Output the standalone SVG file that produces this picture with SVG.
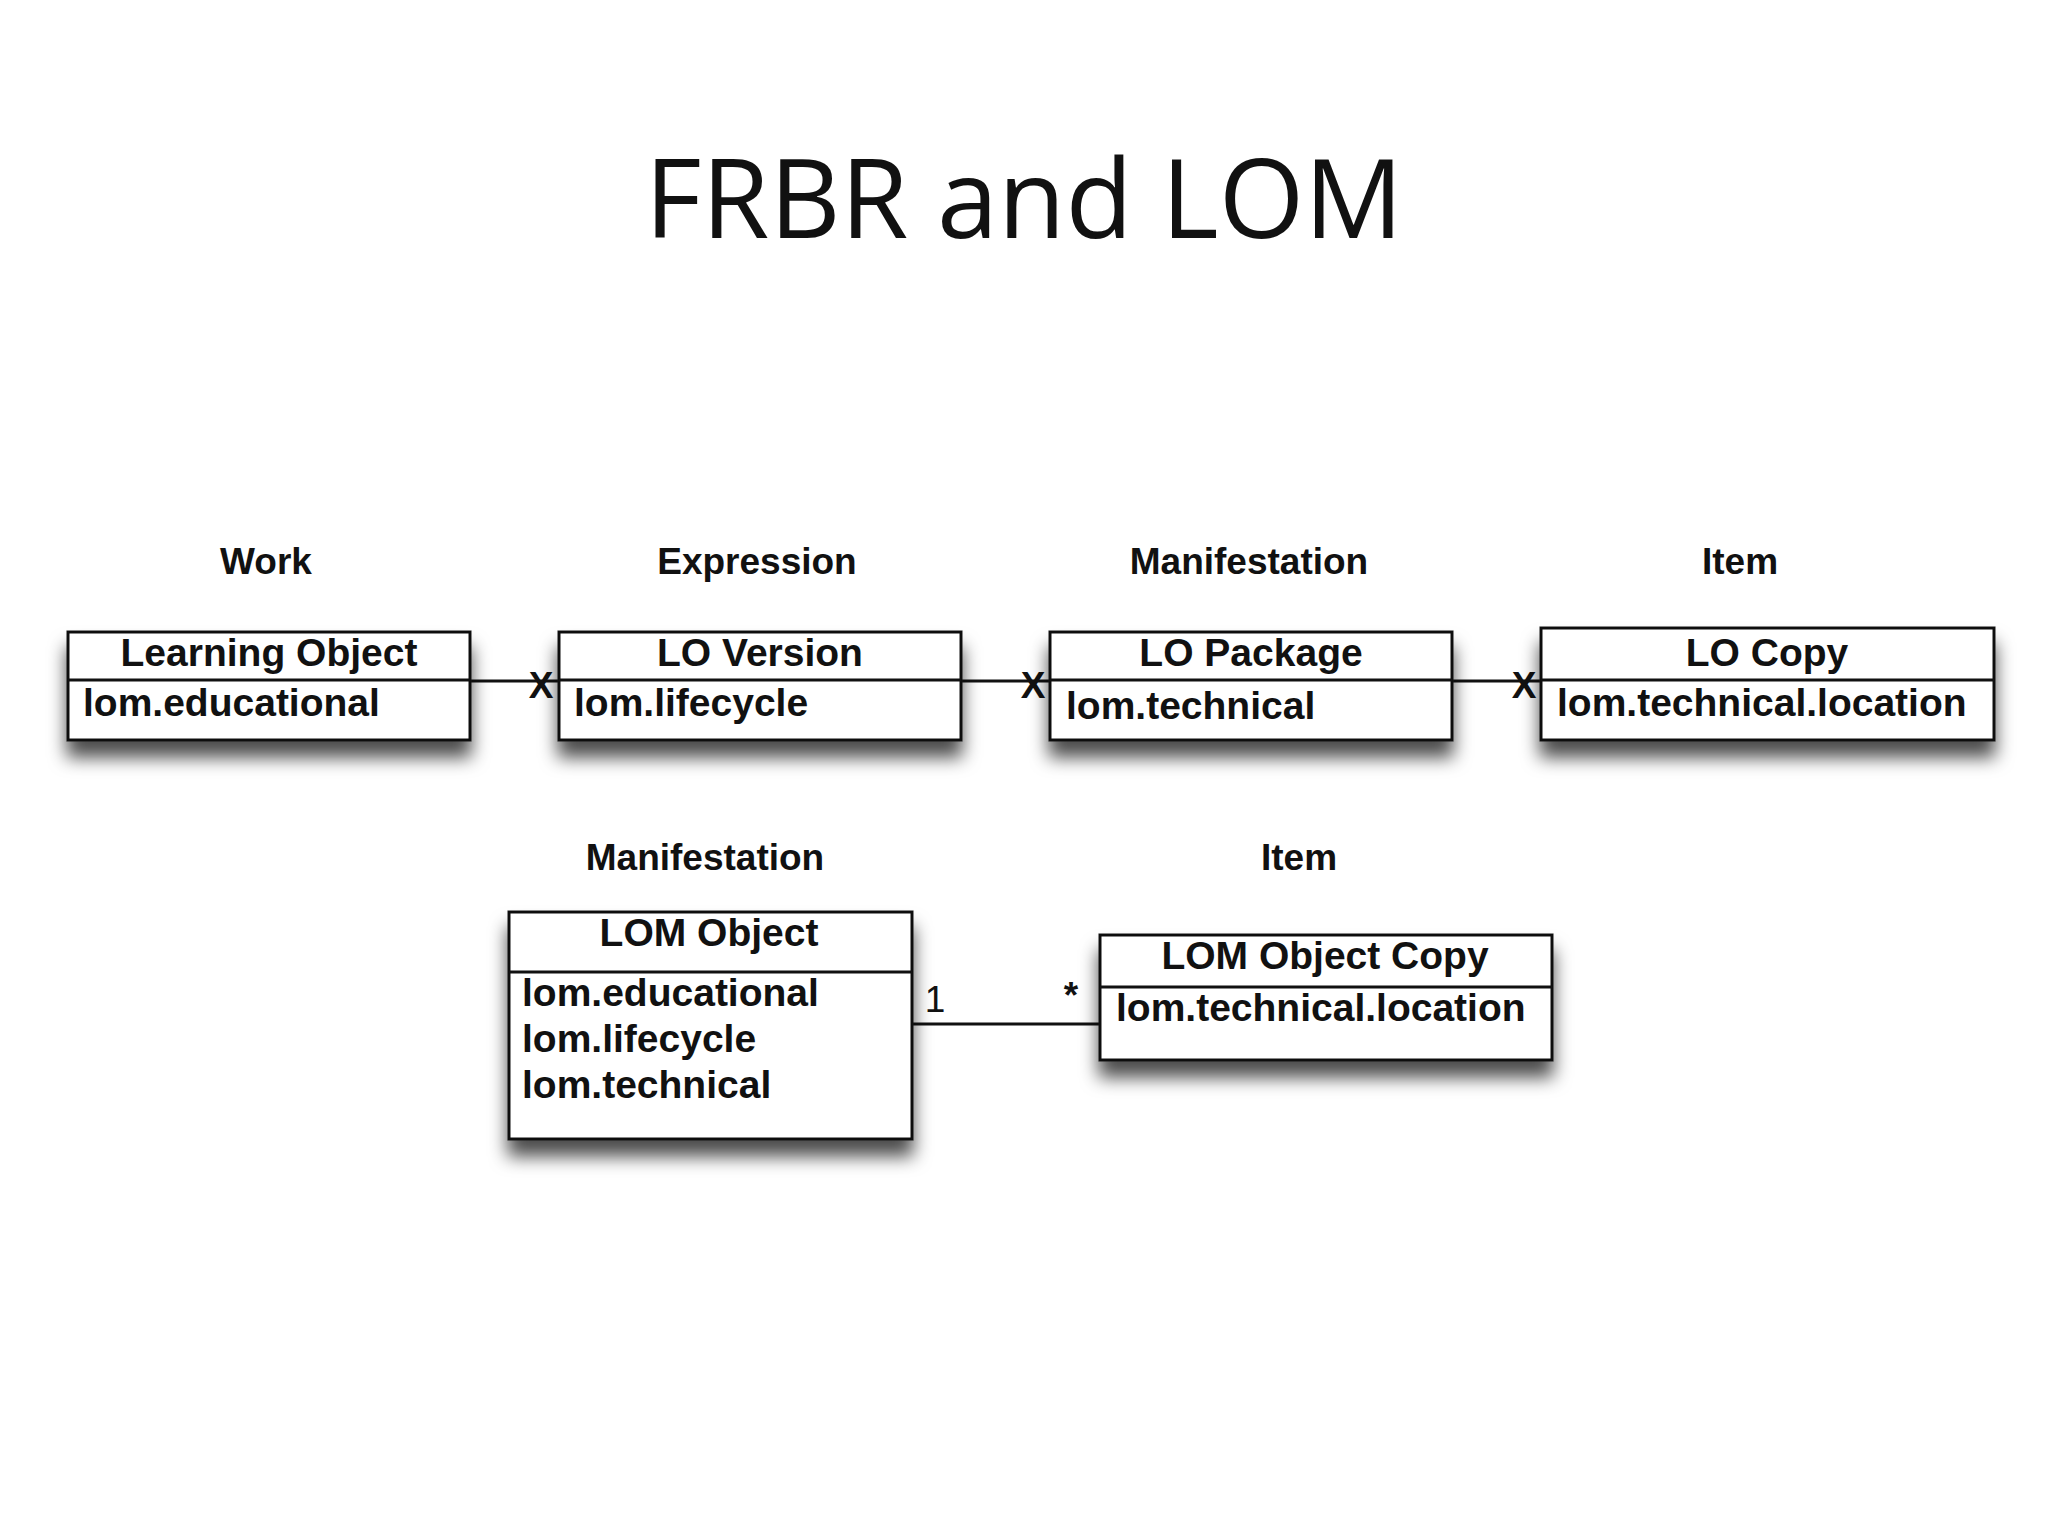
<svg xmlns="http://www.w3.org/2000/svg" width="2048" height="1536" viewBox="0 0 2048 1536">
<style>
.t{font-family:"Liberation Sans",Arial,sans-serif;font-weight:bold;font-size:37px;fill:#111}
.a{font-size:39px}
.b{fill:#fff;stroke:#111;stroke-width:3}
.l{stroke:#111;stroke-width:3;fill:none}
.c{text-anchor:middle}
</style>
<defs>
<filter id="sh" x="-10%" y="-20%" width="120%" height="170%">
<feDropShadow dx="0" dy="16" stdDeviation="9" flood-color="#000" flood-opacity="0.7"/>
</filter>
</defs>
<rect width="2048" height="1536" fill="#fff"/>
<text x="1024" y="238" text-anchor="middle" font-family="Open Sans, sans-serif" font-size="110" fill="#111">FRBR and LOM</text>
<g class="t c">
<text x="266" y="574">Work</text><text x="757" y="574">Expression</text><text x="1249" y="574">Manifestation</text><text x="1740" y="574">Item</text>
<text x="705" y="870">Manifestation</text><text x="1299" y="870">Item</text>
</g>
<g id="connectors">
<line class="l" x1="470" y1="681" x2="559" y2="681"/>
<line class="l" x1="961" y1="681" x2="1050" y2="681"/>
<line class="l" x1="1452" y1="681" x2="1541" y2="681"/>
<line class="l" x1="912" y1="1024" x2="1100" y2="1024"/>
<text class="t c" x="541" y="698">X</text>
<text class="t c" x="1033" y="698">X</text>
<text class="t c" x="1524" y="698">X</text>
<text class="t c" x="935" y="1012" style="font-weight:normal" font-size="30">1</text>
<text class="t c" x="1071" y="1008" font-size="30">*</text>
</g>
<g id="n1"><rect class="b" x="68" y="632" width="402" height="108" filter="url(#sh)"/><line class="l" x1="68" y1="680" x2="470" y2="680"/><text class="t c a" x="269" y="666">Learning Object</text><text class="t a" x="83" y="716">lom.educational</text></g>
<g id="n2"><rect class="b" x="559" y="632" width="402" height="108" filter="url(#sh)"/><line class="l" x1="559" y1="680" x2="961" y2="680"/><text class="t c a" x="760" y="666">LO Version</text><text class="t a" x="574" y="716">lom.lifecycle</text></g>
<g id="n3"><rect class="b" x="1050" y="632" width="402" height="108" filter="url(#sh)"/><line class="l" x1="1050" y1="680" x2="1452" y2="680"/><text class="t c a" x="1251" y="666">LO Package</text><text class="t a" x="1066" y="719">lom.technical</text></g>
<g id="n4"><rect class="b" x="1541" y="628" width="453" height="112" filter="url(#sh)"/><line class="l" x1="1541" y1="680" x2="1994" y2="680"/><text class="t c a" x="1767" y="666">LO Copy</text><text class="t a" x="1557" y="716">lom.technical.location</text></g>
<g id="n5"><rect class="b" x="509" y="912" width="403" height="227" filter="url(#sh)"/><line class="l" x1="509" y1="972" x2="912" y2="972"/><text class="t c a" x="709" y="946">LOM Object</text><text class="t a" x="522" y="1006">lom.educational</text><text class="t a" x="522" y="1052">lom.lifecycle</text><text class="t a" x="522" y="1098">lom.technical</text></g>
<g id="n6"><rect class="b" x="1100" y="935" width="452" height="125" filter="url(#sh)"/><line class="l" x1="1100" y1="987" x2="1552" y2="987"/><text class="t c a" x="1325" y="969">LOM Object Copy</text><text class="t a" x="1116" y="1021">lom.technical.location</text></g>
</svg>
